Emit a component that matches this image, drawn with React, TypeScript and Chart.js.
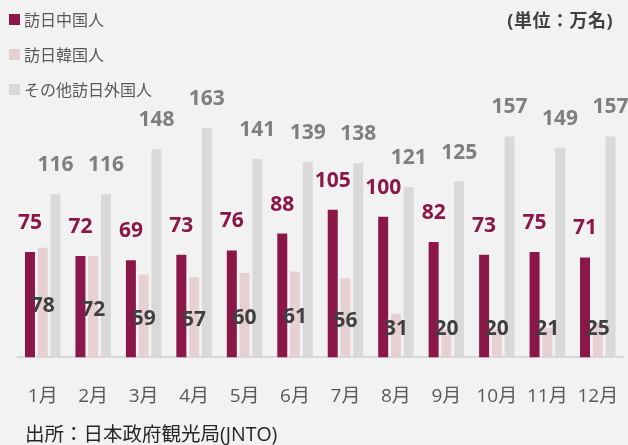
import React, { useEffect, useRef } from "react";
import { Chart, registerables } from "chart.js";

Chart.register(...registerables);

const months = ["1月", "2月", "3月", "4月", "5月", "6月", "7月", "8月", "9月", "10月", "11月", "12月"];
const chinaValues = [75, 72, 69, 73, 76, 88, 105, 100, 82, 73, 75, 71];
const koreaValues = [78, 72, 59, 57, 60, 61, 56, 31, 20, 20, 21, 25];
const otherValues = [116, 116, 148, 163, 141, 139, 138, 121, 125, 157, 149, 157];
const seriesNames = ["訪日中国人", "訪日韓国人", "その他訪日外国人"];
const seriesColors = ["#8B1748", "#E6D0D3", "#D9D9D9"];
const labelColors = ["#8B1748", "#404040", "#7F7F7F"];
const unitText = "(単位：万名)";
const sourceText = "出所：日本政府観光局(JNTO)";

const FONT = "'Open Sans', 'Noto Sans CJK JP', sans-serif";

const labelPlugin = {
  id: "valueLabels",
  afterDatasetsDraw(chart: any) {
    const ctx = chart.ctx;
    ctx.save();
    ctx.font = `bold 21px ${FONT}`;
    ctx.textAlign = "center";
    ctx.textBaseline = "middle";
    chart.data.datasets.forEach((ds: any, di: number) => {
      const meta = chart.getDatasetMeta(di);
      meta.data.forEach((bar: any, i: number) => {
        const v = ds.data[i];
        let y;
        if (di === 1) {
          y = Math.min(bar.base - 28.5, (bar.y + bar.base) / 2 + 3);
        } else {
          y = bar.y - 29;
        }
        ctx.fillStyle = labelColors[di];
        ctx.fillText(String(v), bar.x, y);
      });
    });
    ctx.restore();
  },
};

export default function App() {
  const ref = useRef<HTMLCanvasElement>(null);
  useEffect(() => {
    document.body.style.margin = "0";
    const chart = new Chart(ref.current!, {
      type: "bar",
      data: {
        labels: months,
        datasets: [chinaValues, koreaValues, otherValues].map((d, i) => ({
          label: seriesNames[i],
          data: d,
          backgroundColor: seriesColors[i],
          borderWidth: 0,
          categoryPercentage: 0.758,
          barPercentage: 0.784,
        })),
      },
      options: {
        animation: false,
        responsive: false,
        maintainAspectRatio: false,
        layout: { padding: { left: 17.5, right: 5, top: 76, bottom: 8.8 } },
        plugins: { legend: { display: false }, tooltip: { enabled: false } },
        scales: {
          x: {
            grid: { display: false, drawTicks: false },
            border: { display: true, color: "#D9D9D9", width: 2 },
            ticks: { color: "#595959", font: { family: FONT, size: 19 }, padding: 28, maxRotation: 0, autoSkip: false },
            afterFit(scale: any) {
              scale.paddingLeft = 0;
              scale.paddingRight = 0;
            },
          },
          y: { display: false, min: 0, max: 200 },
        },
      },
      plugins: [labelPlugin],
    });
    return () => chart.destroy();
  }, []);

  const legendItem = (i: number, top: number) => (
    <div key={i} style={{ position: "absolute", left: 9, top, display: "flex", alignItems: "center", height: 20 }}>
      <div style={{ width: 11, height: 11, background: seriesColors[i], marginRight: 4 }} />
      <span style={{ fontSize: 16, color: "#595959", fontFamily: FONT, whiteSpace: "nowrap" }}>{seriesNames[i]}</span>
    </div>
  );

  return (
    <div style={{ position: "relative", width: 628, height: 445, background: "#F2F2F2", overflow: "hidden" }}>
      <canvas ref={ref} width={628} height={445} style={{ position: "absolute", left: 0, top: 0 }} />
      {legendItem(0, 9)}
      {legendItem(1, 44)}
      {legendItem(2, 79)}
      <div style={{ position: "absolute", right: 15, top: 7, fontSize: 18, fontWeight: "bold", letterSpacing: "0.5px", color: "#404040", fontFamily: FONT, whiteSpace: "nowrap", lineHeight: "26px" }}>
        {unitText}
      </div>
      <div style={{ position: "absolute", left: 25, top: 420, fontSize: 19.5, color: "#262626", fontFamily: FONT, whiteSpace: "nowrap", lineHeight: "28px" }}>
        {sourceText}
      </div>
    </div>
  );
}
